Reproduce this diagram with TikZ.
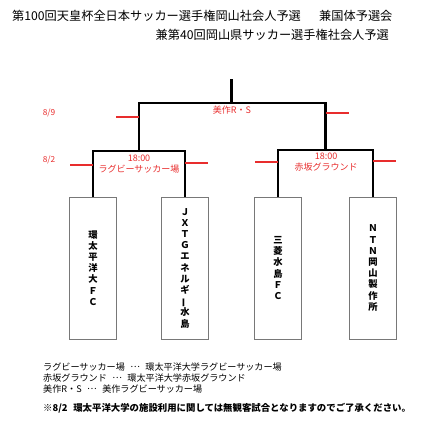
\documentclass[tikz,border=0pt]{standalone}
\usepackage{fontspec}
\usepackage{graphicx}
\setmainfont{Noto Sans CJK JP}
\newfontfamily\jp{Noto Sans CJK JP}
\definecolor{rd}{RGB}{232,45,45}
\definecolor{bxc}{RGB}{120,120,120}
\tikzset{
  bk/.style={line width=2.6pt, line join=miter, black},
  tickln/.style={line width=1.3pt, rd},
  team/.style={draw=bxc, line width=0.8pt, minimum width=47, minimum height=142, inner sep=0pt, align=center,
    font={\jp\bfseries\fontsize{9.3}{11.2}\selectfont}},
  redlab/.style={text=rd, inner sep=0pt, font={\jp\fontsize{9}{10}\selectfont}},
  datelab/.style={text=rd, inner sep=0pt, font={\jp\fontsize{8.3}{9}\selectfont}},
  ttl/.style={inner sep=0pt, font={\jp\fontsize{12.2}{14}\selectfont}},
  note/.style={inner sep=0pt, anchor=west, font={\jp\fontsize{9.1}{10}\selectfont}}
}
\newcommand{\vbar}{\rotatebox[origin=c]{90}{ー}}
\newcommand{\gp}{\hspace{0.6em}}
\newcommand{\mdots}{\raisebox{0.32em}{…}}
\begin{document}
\begin{tikzpicture}[x=1pt,y=-1pt]
\useasboundingbox (0,0) rectangle (444,429);
% titles
\node[ttl, anchor=west] (title1) at (12,16) {第100回天皇杯全日本サッカー選手権岡山社会人予選\hspace{1.5em}兼国体予選会};
\node[ttl, anchor=east] (title2) at (389,35) {兼第40回岡山県サッカー選手権社会人予選};
% teams
\node[team] (t1) at (93,268) {環\\太\\平\\洋\\大\\Ｆ\\Ｃ};
\node[team] (t2) at (185,268) {Ｊ\\Ｘ\\Ｔ\\Ｇ\\エ\\ネ\\ル\\ギ\\\vbar\\水\\島};
\node[team] (t3) at (278,268) {三\\菱\\水\\島\\Ｆ\\Ｃ};
\node[team] (t4) at (373,268) {Ｎ\\Ｔ\\Ｎ\\岡\\山\\製\\作\\所};
% match points
\coordinate (m1) at (139,151);
\coordinate (m2) at (325.5,150);
\coordinate (f) at (231.5,103);
\coordinate (top) at (231.5,79);
% bracket
\draw[bk] (t1.north) |- (m1) -| (t2.north);
\draw[bk] (t3.north) |- (m2) -| (t4.north);
\draw[bk] (m1) |- (f) -| (m2);
\draw[bk] (f) -- (top);
% red ticks
\coordinate (a1) at (116,117); \coordinate (a2) at (139,117);
\coordinate (b1) at (325.5,113); \coordinate (b2) at (349,113);
\coordinate (c1) at (70,165); \coordinate (c2) at (93,165);
\coordinate (d1) at (185,163); \coordinate (d2) at (208,163);
\coordinate (e1) at (255,162); \coordinate (e2) at (278,162);
\coordinate (g1) at (373,161); \coordinate (g2) at (396,161);
\draw[tickln] (a1) -- (a2);
\draw[tickln] (b1) -- (b2);
\draw[tickln] (c1) -- (c2);
\draw[tickln] (d1) -- (d2);
\draw[tickln] (e1) -- (e2);
\draw[tickln] (g1) -- (g2);
% red labels
\node[datelab] (d89) at (49,113) {8/9};
\node[datelab] (d82) at (49,160) {8/2};
\node[redlab] (fv) at (232,110) {美作R・S};
\node[redlab] (tm1) at (139,158) {18:00};
\node[redlab] (vn1) at (139,169) {ラグビーサッカー場};
\node[redlab] (tm2) at (326,156) {18:00};
\node[redlab] (vn2) at (326,167) {赤坂グラウンド};
% notes
\node[note] (n1) at (43,367) {ラグビーサッカー場\gp\mdots\gp 環太平洋大学ラグビーサッカー場};
\node[note] (n2) at (43,378) {赤坂グラウンド\gp\mdots\gp 環太平洋大学赤坂グラウンド};
\node[note] (n3) at (43,389) {美作R・S\gp\mdots\gp 美作ラグビーサッカー場};
\node[note, font={\jp\bfseries\fontsize{9.4}{10}\selectfont}] (n4) at (43,408) {※8/2\hspace{0.6em}環太平洋大学の施設利用に関しては無観客試合となりますのでご了承ください。};
\end{tikzpicture}
\end{document}
